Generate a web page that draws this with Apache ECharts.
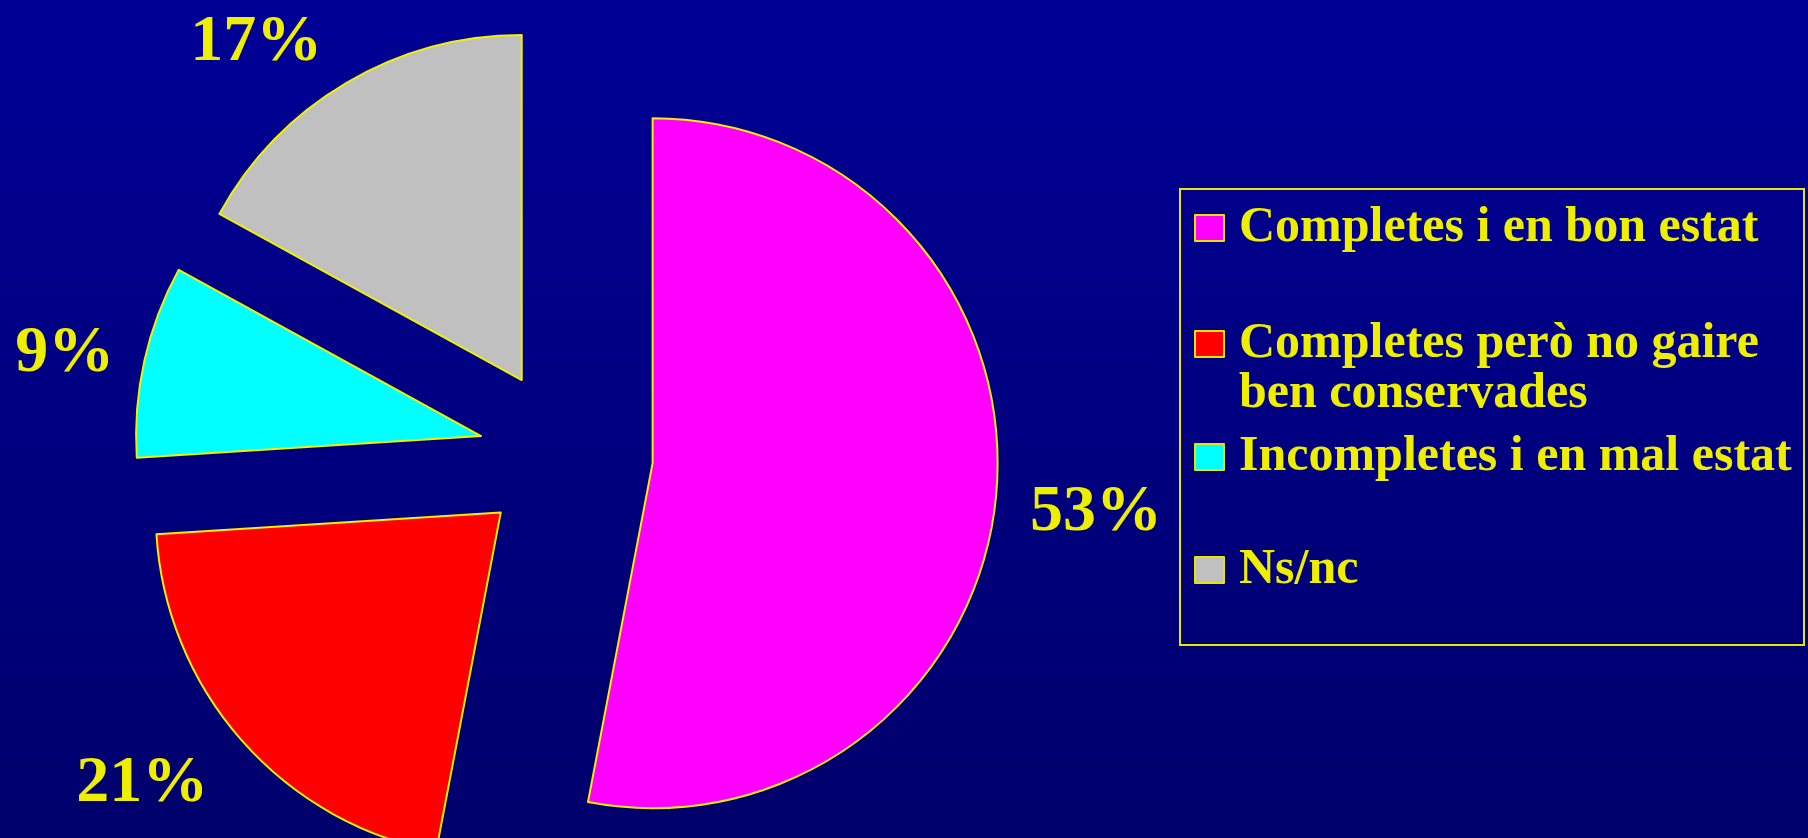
<!DOCTYPE html>
<html>
<head>
<meta charset="utf-8">
<script src="https://cdn.jsdelivr.net/npm/echarts@6/dist/echarts.min.js"></script>
<style>
html,body{margin:0;padding:0;width:1808px;height:838px;overflow:hidden;background:#000090;}
#c{width:1808px;height:838px;}
</style>
</head>
<body>
<div id="c"></div>
<script>
// ---- data ----
const categories = ['Completes i en bon estat', 'Completes però no gaire ben conservades', 'Incompletes i en mal estat', 'Ns/nc'];
const legendLabels = ['Completes i en bon estat', ' \nCompletes però no gaire\nben conservades', 'Incompletes i en mal estat', 'Ns/nc'];
const values = [53, 21, 9, 17];

// ---- style / layout config ----
const colors = ['#FF00FF', '#FF0000', '#00FFFF', '#C0C0C0'];
const yellow = '#EEEE00';
const fontFamily = "'Liberation Serif', 'Times New Roman', serif";
const labelLineLengths = [34, 45, 31, 47];
const labelDownShift = [14, 14, 0, 0];   // px the label is pushed down (via a blank first line)
const legendTops = [203, 269, 432, 545];

const chart = echarts.init(document.getElementById('c'), null, { renderer: 'canvas' });

const seriesData = categories.map((name, i) => {
  const item = {
    name: name,
    value: values[i],
    selected: true,
    itemStyle: { color: colors[i] },
    labelLine: { show: false, length: labelLineLengths[i], length2: 0 }
  };
  if (labelDownShift[i] > 0) {
    item.label = { formatter: ' \n{c}%', lineHeight: labelDownShift[i] * 2 };
  }
  return item;
});

const legends = categories.map((name, i) => ({
  orient: 'vertical',
  left: 1194,
  top: legendTops[i],
  padding: 0,
  itemWidth: 29,
  itemHeight: 26,
  itemGap: 0,
  icon: 'rect',
  selectedMode: false,
  data: [name],
  formatter: () => legendLabels[i],
  itemStyle: { borderColor: '#E6E600', borderWidth: 2 },
  textStyle: {
    color: yellow,
    fontSize: 50,
    fontWeight: 'bold',
    fontFamily: fontFamily,
    lineHeight: 50,
    padding: [0, 0, 0, 10]
  }
}));

chart.setOption({
  animation: false,
  backgroundColor: {
    type: 'linear', x: 0, y: 0, x2: 0, y2: 1,
    colorStops: [{ offset: 0, color: '#000096' }, { offset: 1, color: '#00006C' }]
  },
  legend: legends,
  graphic: [{
    type: 'rect',
    shape: { x: 1180, y: 189, width: 624, height: 456 },
    style: { fill: 'none', stroke: '#E6E600', lineWidth: 2 },
    silent: true
  }],
  series: [{
    type: 'pie',
    center: [566, 455],
    radius: 345,
    startAngle: 90,
    clockwise: true,
    selectedMode: 'multiple',
    selectedOffset: 87,
    avoidLabelOverlap: false,
    itemStyle: { borderColor: '#F0F000', borderWidth: 2 },
    emphasis: { disabled: true },
    label: {
      show: true,
      position: 'outside',
      formatter: '{c}%',
      color: yellow,
      fontSize: 66,
      fontWeight: 'bold',
      fontFamily: fontFamily,
      distanceToLabelLine: 0
    },
    labelLine: { show: false, length: 45, length2: 0 },
    data: seriesData
  }]
});
</script>
</body>
</html>
